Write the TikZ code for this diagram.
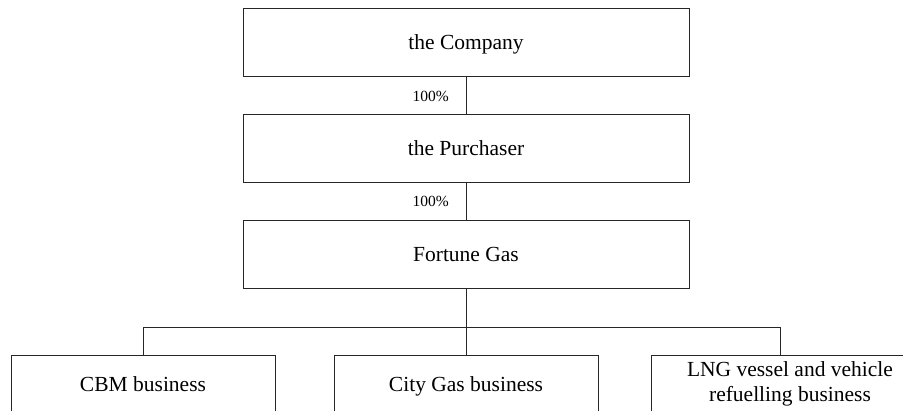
\documentclass[tikz,border=0pt]{standalone}
\usepackage{fontspec}
\setmainfont{Liberation Serif}
\begin{document}
\begin{tikzpicture}[x=1pt,y=-1pt,
  entity/.style={draw=black!85,line width=0.8pt,minimum height=68pt,inner sep=0pt,
    font=\fontsize{21.5}{26}\selectfont,align=center,text height=17pt,text depth=3pt},
  wide/.style={entity,minimum width=446pt},
  unit/.style={entity,minimum width=264pt,minimum height=58pt},
  share/.style={font=\fontsize{15.5}{18}\selectfont,anchor=east,inner sep=0pt},
  link/.style={draw=black!85,line width=0.8pt}]
\useasboundingbox (0,0) rectangle (903,410);
\begin{scope}
\clip (0,0) rectangle (903,410);
% holding chain
\node[wide] (co) at (466,42) {the Company};
\node[wide] (pu) at (466,148.5) {the Purchaser};
\node[wide] (fg) at (466,254) {Fortune Gas};
% business units
\node[unit] (cbm) at (143,384) {CBM business};
\node[unit] (city) at (466,384) {City Gas business};
\node[unit,minimum width=278pt,text height=,text depth=] (lng) at (790,384) {LNG vessel and vehicle\\[-1pt]refuelling business};
\coordinate (bus) at (466,327);
\coordinate (lngtop) at ([xshift=-10pt]lng.north);
% connectors
\draw[link] (co.south) -- (pu.north);
\draw[link] (pu.south) -- (fg.north);
\draw[link] (fg.south) -- (city.north);
\draw[link] (bus) -| (cbm.north);
\draw[link] (bus) -| (lngtop);
% ownership shares
\node[share] (s1) at (449,96) {100\%};
\node[share] (s2) at (449,201) {100\%};
\end{scope}
\end{tikzpicture}
\end{document}
